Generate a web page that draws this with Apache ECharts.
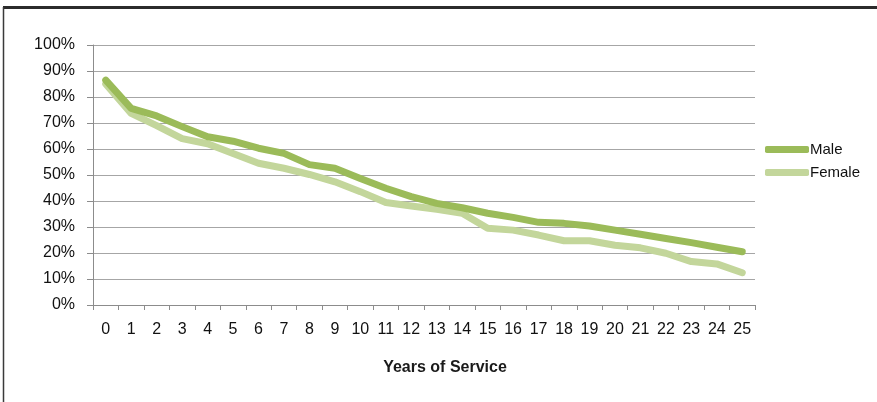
<!DOCTYPE html>
<html>
<head>
<meta charset="utf-8">
<script src="https://cdn.jsdelivr.net/npm/echarts@6/dist/echarts.min.js"></script>
<style>
html,body{margin:0;padding:0;background:#fff;}
#chart{width:877px;height:402px;}
</style>
</head>
<body>
<div id="chart"></div>
<script>
const categories = ['0','1','2','3','4','5','6','7','8','9','10','11','12','13','14','15','16','17','18','19','20','21','22','23','24','25'];
const male = [86.5, 75.6, 72.7, 68.6, 64.7, 63, 60.3, 58.3, 54, 52.6, 48.7, 44.9, 41.7, 39.1, 37.4, 35.3, 33.7, 31.8, 31.4, 30.4, 28.8, 27.2, 25.6, 24, 22.2, 20.5];
const female = [85, 73.7, 69, 64, 62, 58.3, 54.5, 52.6, 50.2, 47.4, 43.6, 39.4, 38.1, 36.8, 35.3, 29.5, 28.8, 26.9, 24.7, 24.7, 23, 22, 19.9, 16.7, 15.8, 12.4];
const seriesNames = ['Male', 'Female'];
const xTitle = 'Years of Service';

const FONT = "'Liberation Sans', Arial, sans-serif";
const chart = echarts.init(document.getElementById('chart'), null, {renderer: 'canvas'});
chart.setOption({
  animation: false,
  backgroundColor: '#ffffff',
  grid: {left: 93, right: 122, top: 45, bottom: 97, containLabel: false},
  legend: {
    orient: 'vertical', left: 760, top: 137,
    icon: 'roundRect', itemWidth: 44, itemHeight: 7, itemGap: 8,
    textStyle: {fontFamily: FONT, fontSize: 15, color: '#111', padding: [0,0,0,-4]},
    data: seriesNames
  },
  xAxis: {
    type: 'category', data: categories, boundaryGap: true,
    name: xTitle, nameLocation: 'middle', nameGap: 55,
    nameTextStyle: {fontFamily: FONT, fontSize: 16, fontWeight: 'bold', color: '#1a1a1a', padding: [0,0,0,42]},
    axisLine: {lineStyle: {color: '#8c8c8c', width: 1}},
    axisTick: {show: true, length: 5, interval: 0, lineStyle: {color: '#8c8c8c'}},
    axisLabel: {fontFamily: FONT, fontSize: 16, color: '#111', margin: 17, interval: 0}
  },
  yAxis: {
    type: 'value', min: 0, max: 100, interval: 10,
    axisLine: {show: true, lineStyle: {color: '#8c8c8c', width: 1}},
    axisTick: {show: true, length: 6, lineStyle: {color: '#8c8c8c'}},
    axisLabel: {fontFamily: FONT, fontSize: 16, color: '#111', margin: 18, formatter: '{value}%'},
    splitLine: {lineStyle: {color: '#a6a6a6', width: 1}}
  },
  series: [
    {name: seriesNames[0], type: 'line', data: male, symbol: 'none', color: '#9bbb59',
     lineStyle: {width: 7, color: '#9bbb59', cap: 'round', join: 'round'}, z: 3},
    {name: seriesNames[1], type: 'line', data: female, symbol: 'none', color: '#c3d69b',
     lineStyle: {width: 7, color: '#c3d69b', cap: 'round', join: 'round'}, z: 2}
  ],
  graphic: [
    {type: 'line', shape: {x1: 3, y1: 7.5, x2: 877, y2: 7.5}, style: {stroke: '#2b2b2b', lineWidth: 3}, silent: true},
    {type: 'line', shape: {x1: 3.5, y1: 7, x2: 3.5, y2: 402}, style: {stroke: '#3a3a3a', lineWidth: 1.5}, silent: true}
  ]
});
</script>
</body>
</html>
